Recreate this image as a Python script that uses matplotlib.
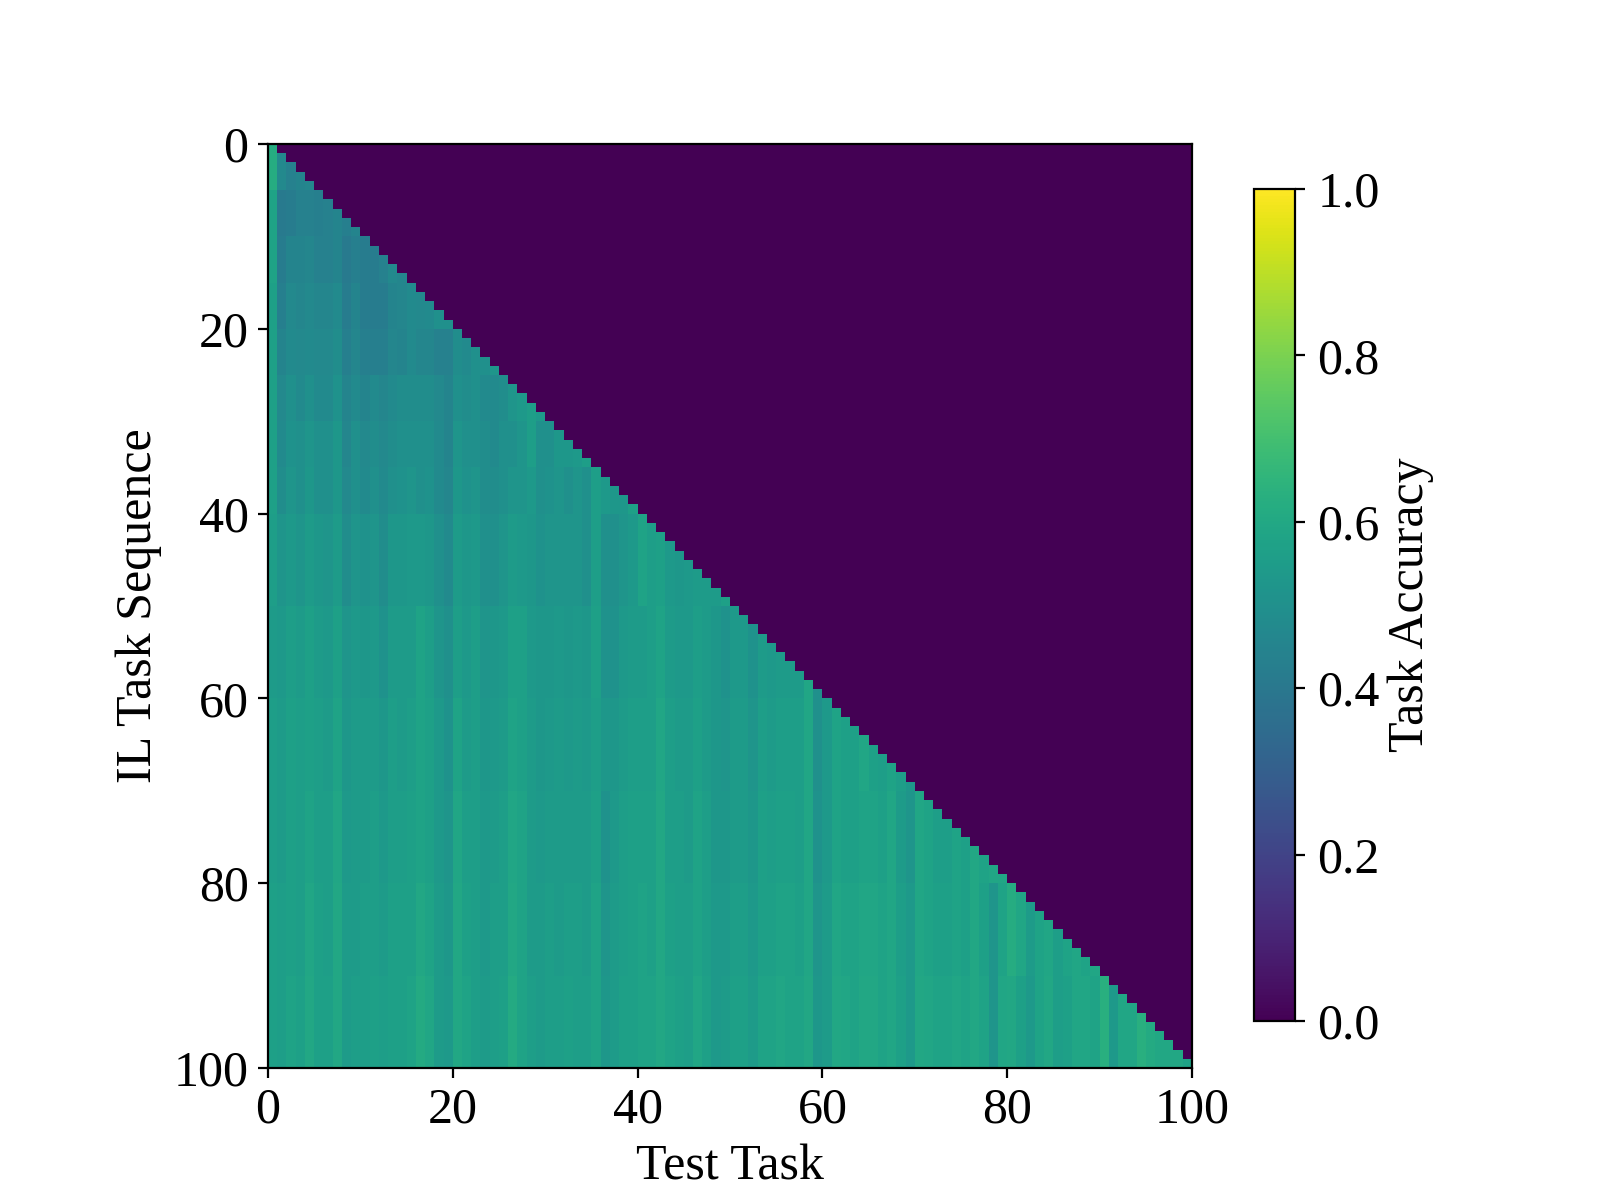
import matplotlib
matplotlib.use("Agg")
import matplotlib.pyplot as plt
import numpy as np

plt.rcParams["font.family"] = ["Liberation Serif", "DejaVu Serif"]
plt.rcParams["font.size"] = 18

# Accuracy in percent per test task for bands of IL rows.
# Each band holds the columns that are filled by its last row.
band_00_05 = [62, 47, 44, 45, 46]
band_05_10 = [58, 41, 42, 44, 44, 43, 44, 45, 43, 45]
band_10_15 = [58, 42, 45, 45, 46, 44, 44, 45, 41, 43,
              42, 42, 44, 47, 46]
band_15_20 = [57, 43, 47, 46, 47, 46, 46, 48, 42, 45,
              42, 42, 42, 45, 46, 48, 47, 48, 50, 50]
band_20_25 = [57, 45, 48, 47, 48, 47, 47, 49, 43, 46,
              43, 43, 43, 46, 45, 48, 46, 46, 44, 44,
              49, 48, 50, 50, 52]
band_25_30 = [57, 47, 50, 48, 50, 48, 48, 51, 45, 48,
              45, 48, 46, 48, 49, 49, 49, 49, 47, 45,
              50, 49, 50, 48, 48, 49, 52, 54, 56, 54]
band_30_35 = [57, 48, 51, 50, 52, 50, 50, 53, 46, 50,
              47, 49, 47, 49, 50, 50, 50, 50, 48, 45,
              52, 50, 50, 49, 48, 50, 50, 52, 56, 50,
              50, 53, 53, 54, 56]
band_35_40 = [57, 49, 52, 50, 53, 50, 50, 53, 47, 50,
              48, 50, 48, 50, 51, 52, 50, 51, 48, 46,
              53, 51, 52, 49, 49, 50, 52, 52, 54, 50,
              51, 52, 50, 52, 50, 56, 54, 53, 53, 57]
band_40_50 = [56, 52, 54, 52, 55, 53, 52, 55, 49, 52,
              51, 52, 49, 53, 53, 54, 54, 53, 50, 48,
              55, 53, 54, 50, 50, 52, 55, 54, 53, 51,
              52, 52, 52, 52, 50, 56, 50, 50, 52, 54,
              58, 56, 57, 54, 53, 54, 55, 55, 55, 57]
band_50_60 = [55, 54, 56, 55, 57, 55, 54, 57, 52, 54,
              53, 54, 51, 55, 55, 55, 58, 56, 52, 50,
              56, 54, 56, 52, 53, 54, 57, 57, 54, 53,
              53, 54, 53, 54, 53, 57, 51, 51, 54, 55,
              55, 56, 58, 55, 54, 54, 56, 55, 53, 51,
              54, 54, 51, 55, 54, 55, 55, 55, 59, 50]
band_60_70 = [56, 55, 57, 56, 57, 56, 55, 58, 53, 55,
              55, 55, 53, 56, 55, 56, 58, 57, 54, 51,
              58, 55, 56, 53, 54, 55, 58, 57, 55, 53,
              54, 55, 54, 55, 54, 56, 53, 53, 55, 56,
              56, 56, 59, 56, 55, 55, 57, 55, 53, 52,
              55, 55, 52, 56, 55, 56, 56, 56, 59, 50,
              54, 58, 57, 57, 59, 57, 56, 58, 56, 53]
band_70_80 = [56, 55, 57, 56, 58, 56, 56, 59, 54, 55,
              55, 56, 54, 56, 56, 57, 58, 57, 54, 52,
              59, 56, 56, 54, 55, 56, 59, 58, 55, 54,
              55, 55, 55, 55, 55, 57, 51, 54, 56, 57,
              57, 57, 60, 56, 56, 55, 58, 56, 53, 53,
              55, 55, 53, 57, 56, 57, 57, 56, 59, 51,
              54, 58, 57, 57, 58, 58, 57, 59, 55, 52,
              59, 58, 56, 56, 58, 57, 60, 58, 59, 59]
band_80_90 = [57, 56, 57, 56, 59, 57, 56, 60, 55, 55,
              56, 56, 55, 57, 57, 57, 60, 58, 55, 53,
              60, 57, 56, 54, 56, 56, 60, 58, 55, 55,
              56, 55, 56, 56, 55, 58, 52, 55, 56, 57,
              58, 57, 60, 57, 56, 56, 58, 56, 54, 54,
              56, 56, 54, 57, 57, 58, 58, 57, 59, 52,
              55, 59, 58, 58, 59, 59, 58, 59, 56, 54,
              59, 58, 57, 57, 58, 57, 60, 57, 52, 58,
              62, 59, 55, 58, 59, 56, 58, 59, 58, 59]
band_90_100 = [57, 56, 58, 57, 60, 57, 57, 60, 55, 56,
               56, 57, 56, 57, 57, 58, 61, 59, 55, 54,
               60, 58, 56, 55, 56, 57, 61, 58, 56, 55,
               56, 56, 57, 56, 56, 58, 53, 55, 57, 57,
               58, 58, 60, 58, 57, 56, 59, 57, 54, 55,
               57, 57, 55, 58, 58, 59, 58, 58, 60, 53,
               55, 60, 59, 58, 60, 60, 58, 59, 57, 54,
               60, 59, 58, 58, 59, 58, 60, 58, 52, 59,
               60, 57, 54, 58, 60, 56, 57, 59, 59, 58,
               63, 54, 59, 59, 63, 61, 60, 60, 60, 58]

band_starts = [0, 5, 10, 15, 20, 25, 30, 35, 40, 50, 60, 70, 80, 90]
bands = [band_00_05, band_05_10, band_10_15, band_15_20, band_20_25,
         band_25_30, band_30_35, band_35_40, band_40_50, band_50_60,
         band_60_70, band_70_80, band_80_90, band_90_100]

axis_ticks = [0, 20, 40, 60, 80, 100]
cbar_ticks = [0.0, 0.2, 0.4, 0.6, 0.8, 1.0]

# Only the lower triangle has been tested, the rest stays at zero
acc = np.zeros((100, 100))
for start, band in zip(band_starts, bands):
    acc[start:len(band), :len(band)] = np.array(band) / 100.0
acc = np.tril(acc)

fig = plt.figure(figsize=(8, 6), dpi=200)
ax = fig.add_axes([268 / 1600, 1 - 1068 / 1200, 924 / 1600, 924 / 1200])
im = ax.imshow(acc, cmap="viridis", vmin=0, vmax=1, extent=[0, 100, 100, 0],
               interpolation="nearest", aspect="equal")
ax.set_xticks(axis_ticks)
ax.set_yticks(axis_ticks)
ax.set_xlabel("Test Task", labelpad=3.5)
ax.set_ylabel("IL Task Sequence", labelpad=4)

cax = fig.add_axes([1254 / 1600, 1 - 1021 / 1200, 41 / 1600, 832 / 1200])
cb = fig.colorbar(im, cax=cax)
cb.set_ticks(cbar_ticks)
cb.ax.tick_params(pad=4.5)
cb.set_label("Task Accuracy", labelpad=3)

fig.savefig("out.png", dpi=200)
